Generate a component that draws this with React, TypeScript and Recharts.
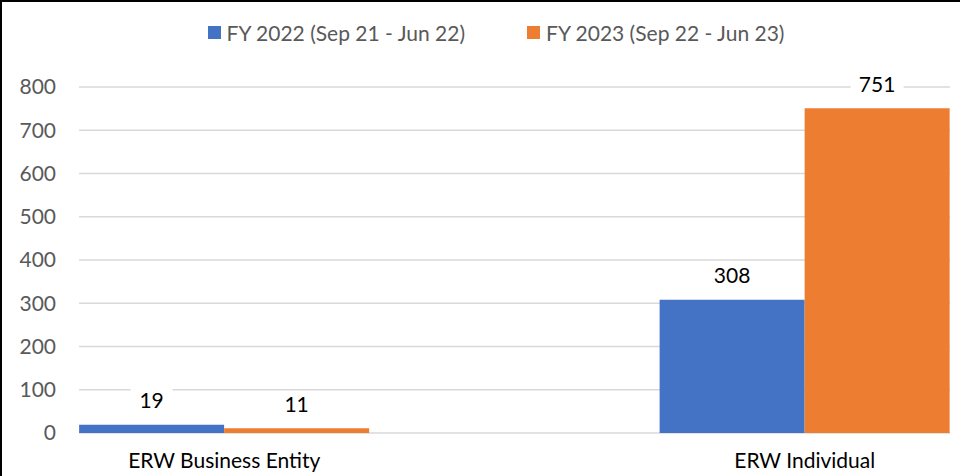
import { BarChart, Bar, XAxis, YAxis, CartesianGrid, Legend, LabelList } from 'recharts';

const categories = ['ERW Business Entity', 'ERW Individual'];
const fy2022 = [19, 308];
const fy2023 = [11, 751];
const yTicks = [0, 100, 200, 300, 400, 500, 600, 700, 800];
const seriesNames = ['FY 2022 (Sep 21 - Jun 22)', 'FY 2023 (Sep 22 - Jun 23)'];
const colors = ['#4472C4', '#ED7D31'];

const data = categories.map((name, i) => ({ name, fy2022: fy2022[i], fy2023: fy2023[i] }));

const FONT = 'Lato, "Open Sans", sans-serif';
const FS = 21;

function ValueLabel(props: any) {
  const { x, y, width, value } = props;
  const cx = x + width / 2;
  const cy = y - 25;
  const w = String(value).length * 11 + 20;
  return (
    <g>
      <rect x={cx - w / 2} y={cy - 12} width={w} height={24} fill="#fff" />
      <text x={cx} y={cy} textAnchor="middle" dominantBaseline="central" fontSize={FS} fill="#000" fontFamily={FONT}>
        {value}
      </text>
    </g>
  );
}

function LegendContent() {
  return (
    <div
      style={{
        display: 'flex',
        justifyContent: 'center',
        gap: 62,
        paddingLeft: 30,
        fontFamily: FONT,
        fontSize: FS,
        color: '#595959',
      }}
    >
      {seriesNames.map((n, i) => (
        <div key={n} style={{ display: 'flex', alignItems: 'center' }}>
          <span style={{ display: 'inline-block', width: 13, height: 13, background: colors[i], marginRight: 6 }} />
          <span>{n}</span>
        </div>
      ))}
    </div>
  );
}

export default function App() {
  return (
    <div
      style={{
        position: 'absolute',
        left: 0,
        top: 0,
        width: 958,
        height: 474,
        borderLeft: '2px solid #000',
        borderTop: '2px solid #000',
        overflow: 'hidden',
        background: '#fff',
      }}
    >
      <BarChart
        width={958}
        height={474}
        data={data}
        margin={{ top: 85, right: 10, bottom: 0, left: 0 }}
        barCategoryGap="25%"
        barGap={0}
      >
        <CartesianGrid vertical={false} stroke="#d9d9d9" strokeWidth={1.5} />
        <XAxis
          dataKey="name"
          axisLine={false}
          tickLine={false}
          tickSize={0}
          tickMargin={20}
          height={43}
          padding={{ left: -145, right: -145 }}
          tick={{ fontSize: FS, fill: '#000', fontFamily: FONT }}
        />
        <YAxis
          domain={[0, 800]}
          ticks={yTicks}
          axisLine={false}
          tickLine={false}
          tickSize={0}
          tickMargin={23}
          width={77}
          tick={{ fontSize: FS, fill: '#595959', fontFamily: FONT }}
        />
        <Legend verticalAlign="middle" wrapperStyle={{ top: 18, left: 0, width: 958 }} content={LegendContent} />
        <Bar dataKey="fy2022" name={seriesNames[0]} fill={colors[0]} isAnimationActive={false}>
          <LabelList dataKey="fy2022" content={ValueLabel} />
        </Bar>
        <Bar dataKey="fy2023" name={seriesNames[1]} fill={colors[1]} isAnimationActive={false}>
          <LabelList dataKey="fy2023" content={ValueLabel} />
        </Bar>
      </BarChart>
    </div>
  );
}
